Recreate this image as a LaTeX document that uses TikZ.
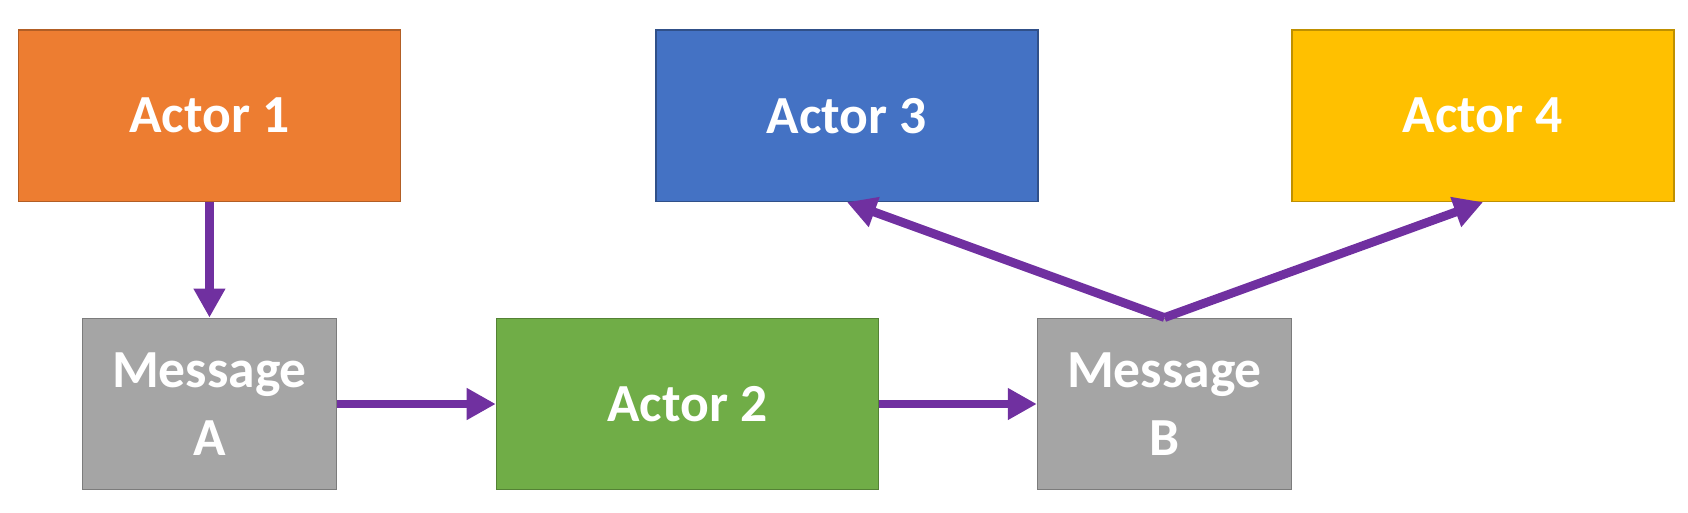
\documentclass[tikz,border=0pt]{standalone}
\usepackage{fontspec}
\setmainfont{Carlito}
\usetikzlibrary{arrows.meta, positioning}
\definecolor{actorOrange}{HTML}{ED7D31}
\definecolor{actorBlue}{HTML}{4472C4}
\definecolor{actorYellow}{HTML}{FFC000}
\definecolor{actorGreen}{HTML}{70AD47}
\definecolor{msgGray}{HTML}{A5A5A5}
\definecolor{flowPurple}{HTML}{7030A0}

\begin{document}
\begin{tikzpicture}[x=0.02cm, y=-0.02cm,
    box/.style={draw, line width=0.8pt, text=white, align=center,
        font=\fontsize{30.5}{38.5}\selectfont\bfseries,
        minimum height=3.43cm, inner sep=0pt},
    actor/.style={box, minimum width=7.64cm},
    msg/.style={box, minimum width=5.08cm},
    flow/.style={color=flowPurple, line width=5pt,
        -{Triangle[length=0.58cm, width=0.6cm]}}]
        \useasboundingbox (0,0) rectangle (1688,512);

        \node[actor, fill=actorOrange, draw=actorOrange!75!black] (a1) at (209.4, 115.7) {Actor 1};
        \node[actor, fill=actorBlue, draw=actorBlue!70!black] (a3) at (847, 115.7) {Actor 3};
        \node[actor, fill=actorYellow, draw=actorYellow!75!black] (a4) at (1483, 115.7) {Actor 4};
        \node[msg, fill=msgGray, draw=msgGray!75!black] (ma) at (209.5, 404) {Message\\A};
        \node[actor, fill=actorGreen, draw=actorGreen!75!black] (a2) at (687.4, 404) {Actor 2};
        \node[msg, fill=msgGray, draw=msgGray!75!black] (mb) at (1164.5, 404) {Message\\B};

        \path[flow]
        (a1) edge (ma)
        (ma) edge (a2)
        (a2) edge (mb)
        (mb.north) edge (a3.south)
        (mb.north) edge (a4.south)
        ;
    \end{tikzpicture}
\end{document}
